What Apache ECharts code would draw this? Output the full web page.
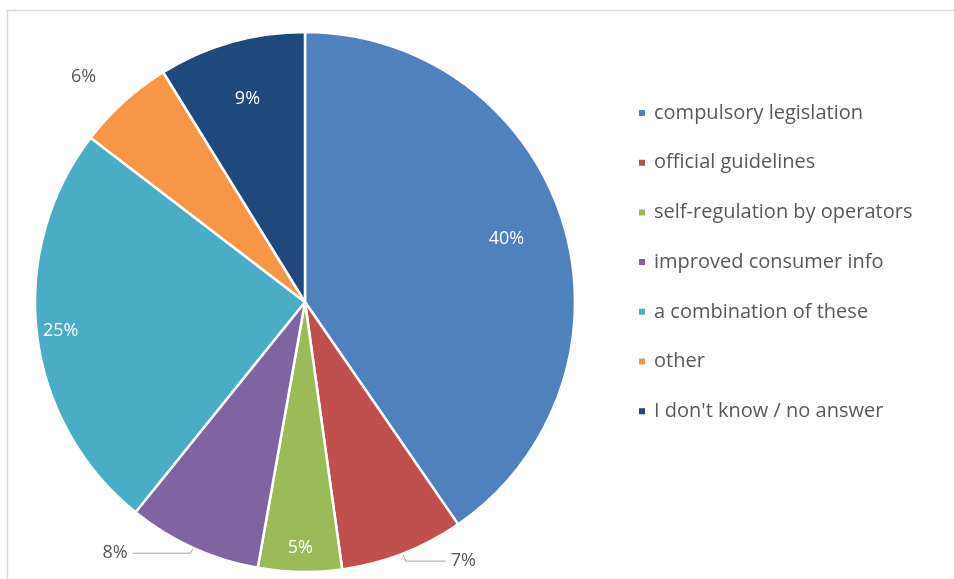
<!DOCTYPE html>
<html>
<head>
<meta charset="utf-8">
<script src="https://cdn.jsdelivr.net/npm/echarts@6/dist/echarts.min.js"></script>
<style>html,body{margin:0;padding:0;background:#fff}#c{width:954px;height:579px}</style>
</head>
<body>
<div id="c"></div>
<script>
const categories = ['compulsory legislation', 'official guidelines', 'self-regulation by operators', 'improved consumer info', 'a combination of these', 'other', "I don't know / no answer"];
// shares in percent (labels show them rounded)
const values = [40.4, 7.4, 5.0, 8.0, 24.6, 5.8, 8.8];
const colors = ['#4F81BD', '#C0504D', '#9BBB59', '#8064A2', '#4BACC6', '#F79646', '#1F497D'];
// label placement groups (by category index)
const outsideLabels = [1, 3, 5];
const innerLabelsA = [0, 6];   // nearer centre
const innerLabelsB = [2, 4];   // nearer rim

const FONT = '"Open Sans", "Liberation Sans", sans-serif';
const center = [305, 302];
const R = 270;
const fmt = p => Math.round(p.value) + '%';

const outsideCfg = {
  1: { length: 8, length2: 40, show: true },
  3: { length: 6, length2: 58, show: true },
  5: { length: 34, length2: 0, show: false }
};

const mainData = categories.map((name, i) => {
  const d = { name, value: values[i], itemStyle: { color: colors[i] } };
  if (outsideLabels.includes(i)) {
    const c = outsideCfg[i];
    d.label = { show: true, position: 'outside', distance: c.show ? 4 : 0 };
    d.labelLine = { show: c.show, length: c.length, length2: c.length2, lineStyle: { color: '#a6a6a6', width: 1 } };
  } else {
    d.label = { show: false };
    d.labelLine = { show: false };
  }
  return d;
});

function overlay(idxs, r0) {
  return {
    type: 'pie', silent: true, center, radius: [r0, R], startAngle: 90, clockwise: true,
    avoidLabelOverlap: false, legendHoverLink: false,
    itemStyle: { color: 'rgba(0,0,0,0)', borderWidth: 0 },
    label: { position: 'inside', color: '#fff', fontFamily: FONT, fontSize: 18, formatter: fmt },
    labelLine: { show: false },
    emphasis: { disabled: true },
    data: categories.map((name, i) => ({ name: name + ' ', value: values[i], label: { show: idxs.includes(i) } }))
  };
}

const chart = echarts.init(document.getElementById('c'));
chart.setOption({
  animation: false,
  backgroundColor: '#fff',
  graphic: [
    { type: 'line', shape: { x1: 6, y1: 10.5, x2: 954, y2: 10.5 }, style: { stroke: '#d9d9d9', lineWidth: 1.5 } },
    { type: 'line', shape: { x1: 7.5, y1: 10, x2: 7.5, y2: 579 }, style: { stroke: '#d9d9d9', lineWidth: 1.5 } }
  ],
  legend: {
    data: categories,
    orient: 'vertical',
    left: 632,
    top: 98,
    icon: 'rect',
    itemWidth: 8,
    itemHeight: 8,
    itemGap: 29.7,
    textStyle: { color: '#595959', fontFamily: FONT, fontSize: 20, lineHeight: 20, padding: [0, 0, 0, 3] }
  },
  series: [
    {
      type: 'pie', center, radius: [0, R], startAngle: 90, clockwise: true,
      avoidLabelOverlap: false,
      itemStyle: { borderColor: '#fff', borderWidth: 2.5 },
      label: { color: '#595959', fontFamily: FONT, fontSize: 18, formatter: fmt },
      emphasis: { scale: false },
      data: mainData
    },
    overlay(innerLabelsA, R * 0.54),
    overlay(innerLabelsB, R * 0.80)
  ]
});
</script>
</body>
</html>
